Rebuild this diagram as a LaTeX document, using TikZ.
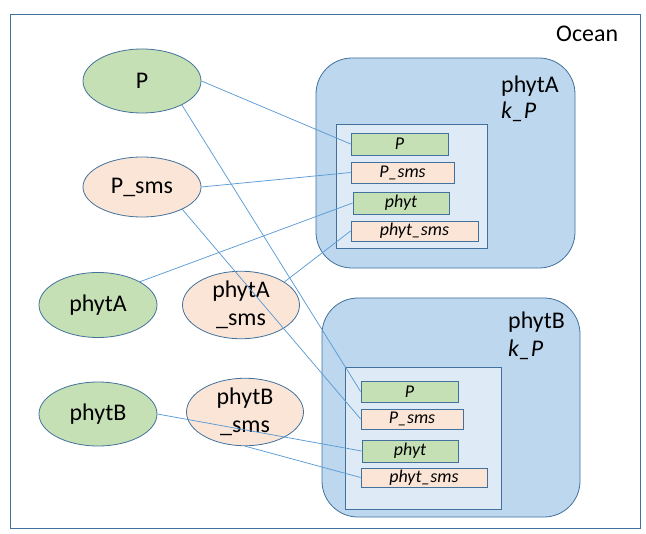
\documentclass[tikz,border=0pt]{standalone}
\usepackage{fontspec}
\setmainfont{Carlito}
\usetikzlibrary{shapes.geometric}
\definecolor{edgeblue}{HTML}{41719C}
\definecolor{linkblue}{HTML}{5B9BD5}
\definecolor{gfill}{HTML}{C5E0B4}
\definecolor{pfill}{HTML}{FBE5D6}
\definecolor{bigfill}{HTML}{BDD7EE}
\definecolor{innerfill}{HTML}{DEEBF7}
\tikzset{
  ell/.style={ellipse, draw=edgeblue, line width=0.8pt, minimum width=118bp, minimum height=62bp, inner sep=0pt, align=center, font=\fontsize{24}{28}\selectfont},
  gell/.style={ell, fill=gfill},
  pell/.style={ell, fill=pfill},
  sbox/.style={rectangle, draw=edgeblue, line width=0.8pt, inner sep=0pt, font=\fontsize{18}{20}\selectfont\itshape},
  gbox/.style={sbox, fill=gfill},
  pbox/.style={sbox, fill=pfill},
  bigbox/.style={rectangle, rounded corners=36bp, draw=edgeblue, line width=0.8pt, fill=bigfill, inner sep=0pt},
  innerbox/.style={rectangle, draw=edgeblue, line width=0.8pt, fill=innerfill, inner sep=0pt},
  lbl/.style={anchor=west, inner sep=0pt, font=\fontsize{24}{28}\selectfont},
  link/.style={draw=linkblue, line width=0.75pt},
}
\begin{document}
\begin{tikzpicture}[x=1bp, y=-1bp]
\useasboundingbox (0,0) rectangle (646,534);
\draw[edgeblue, line width=0.8pt] (10,14) rectangle (640,528);
\node[lbl] (ocean) at (556,34) {Ocean};

% big boxes
\node[bigbox, minimum width=259bp, minimum height=210bp] (bigA) at (445.5,163) {};
\node[bigbox, minimum width=258bp, minimum height=219bp] (bigB) at (451,407.5) {};
\node[lbl] (labA) at (501,86) {phytA};
\node[lbl] (kA) at (501,112) {\itshape k\_P};
\node[lbl] (labB) at (508,322) {phytB};
\node[lbl] (kB) at (508,350) {\itshape k\_P};

\node[innerbox, minimum width=151bp, minimum height=124bp] (inA) at (411.5,186) {};
\node[innerbox, minimum width=156bp, minimum height=142bp] (inB) at (423,438) {};

% small boxes A
\node[gbox, minimum width=97bp, minimum height=22bp] (aP) at (399.5,144) {P};
\node[pbox, minimum width=103bp, minimum height=21bp] (aPs) at (402.5,172.5) {P\_sms};
\node[gbox, minimum width=96bp, minimum height=22bp] (aPh) at (401,203) {phyt};
\node[pbox, minimum width=127bp, minimum height=20bp] (aPhs) at (414.5,231) {phyt\_sms};
% small boxes B
\node[gbox, minimum width=97bp, minimum height=21bp] (bP) at (409.5,391.5) {P};
\node[pbox, minimum width=102bp, minimum height=20bp] (bPs) at (412,419) {P\_sms};
\node[gbox, minimum width=96bp, minimum height=22bp] (bPh) at (410,451) {phyt};
\node[pbox, minimum width=126bp, minimum height=19bp] (bPhs) at (424,477.5) {phyt\_sms};

% ellipses
\node[gell, minimum height=64bp] (P) at (142,81) {P};
\node[pell, minimum height=60bp] (Ps) at (142,187) {P\_sms};
\node[gell, minimum height=65bp] (phA) at (98,305) {phytA};
\node[pell, minimum width=117bp] (phAs) at (241,305) {phytA\\\_sms};
\node[gell, minimum height=64bp] (phB) at (98,414) {phytB};
\node[pell, minimum width=117bp, minimum height=60bp] (phBs) at (245,412) {phytB\\\_sms};

% connectors
\draw[link] (P.east) -- (aP.west);
\draw[link] (P.-31) -- (bP.west);
\draw[link] (Ps.east) -- (aPs.west);
\draw[link] (Ps.-29) -- (bPs.west);
\draw[link] (phA.29) -- (aPh.west);
\draw[link] (phAs.28) -- (aPhs.west);
\draw[link] (phB.east) -- (bPh.west);
\draw[link] (phBs.south) -- (bPhs.west);
\end{tikzpicture}
\end{document}
